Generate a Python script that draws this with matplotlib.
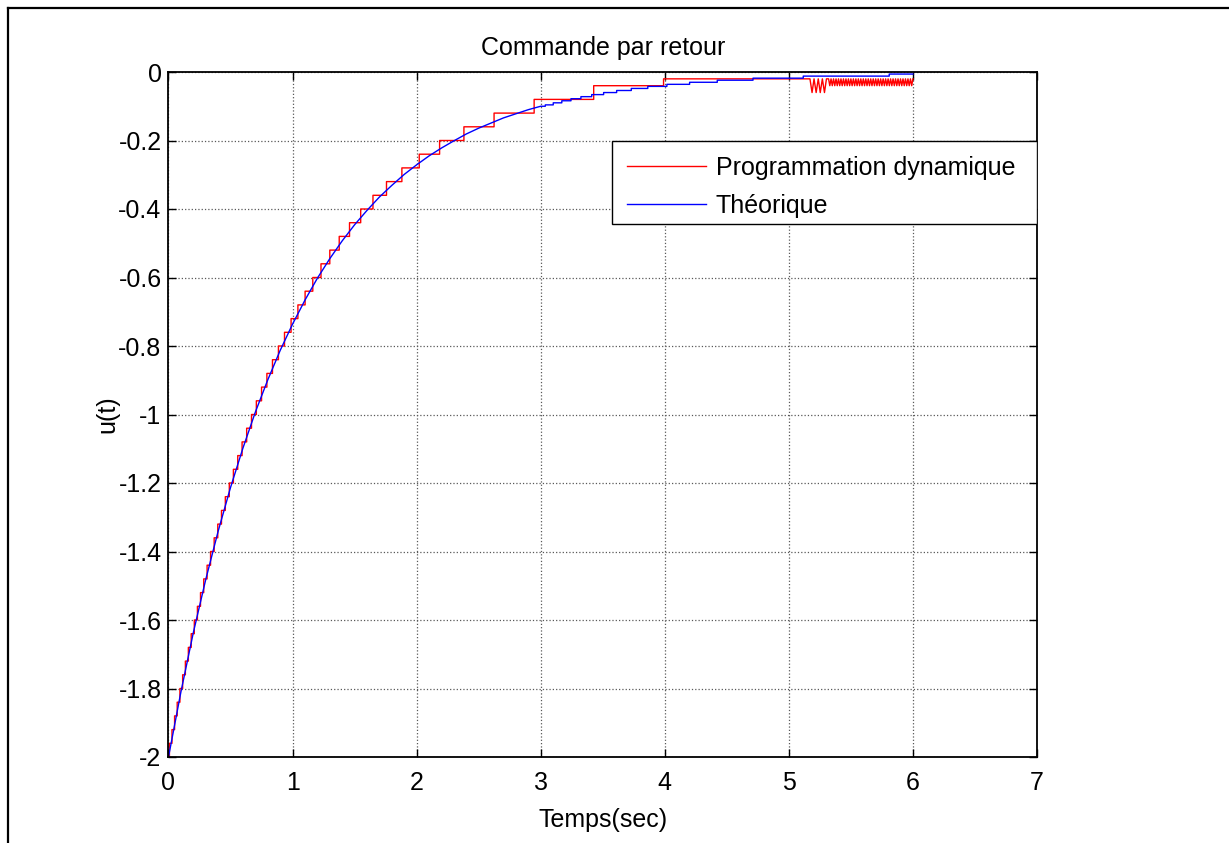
import numpy as np
import matplotlib
matplotlib.use("Agg")
import matplotlib.pyplot as plt
from matplotlib.lines import Line2D
from matplotlib.patches import Rectangle
from matplotlib.ticker import FuncFormatter

plt.rcParams['font.family'] = ['Liberation Sans', 'DejaVu Sans']
plt.rcParams['axes.unicode_minus'] = False

# ---- data ---------------------------------------------------------------
title = "Commande par retour"
xlabel = "Temps(sec)"
ylabel = "u(t)"
label_dp = "Programmation dynamique"
label_th = "Théorique"

x_ticks = [0, 1, 2, 3, 4, 5, 6, 7]
y_ticks = [-2, -1.8, -1.6, -1.4, -1.2, -1, -0.8, -0.6, -0.4, -0.2, 0]

# dynamic programming control: switching instants and held levels
dp_t = [0.000, 0.0075, 0.028, 0.049, 0.070, 0.092, 0.114, 0.136, 0.160, 0.183,
        0.208, 0.233, 0.258, 0.284, 0.311, 0.339, 0.368, 0.397, 0.427, 0.458,
        0.490, 0.523, 0.558, 0.593, 0.630, 0.669, 0.708, 0.750, 0.793, 0.838,
        0.886, 0.935, 0.988, 1.043, 1.101, 1.163, 1.229, 1.300, 1.376, 1.459,
        1.549, 1.648, 1.757, 1.881, 2.021, 2.185, 2.381, 2.624, 2.947, 3.427,
        3.990, 5.170]
dp_u = [-2.00, -1.96, -1.92, -1.88, -1.84, -1.80, -1.76, -1.72, -1.68, -1.64,
        -1.60, -1.56, -1.52, -1.48, -1.44, -1.40, -1.36, -1.32, -1.28, -1.24,
        -1.20, -1.16, -1.12, -1.08, -1.04, -1.00, -0.96, -0.92, -0.88, -0.84,
        -0.80, -0.76, -0.72, -0.68, -0.64, -0.60, -0.56, -0.52, -0.48, -0.44,
        -0.40, -0.36, -0.32, -0.28, -0.24, -0.20, -0.16, -0.12, -0.08, -0.04,
        -0.02, -0.02]

# dynamic programming control near the end (sampled every 0.0167 s, then 0.01 s)
dp_dip_t = [5.170, 5.187, 5.203, 5.220, 5.237, 5.253, 5.270, 5.287, 5.303]
dp_dip_u = [-0.02, -0.06, -0.02, -0.06, -0.02, -0.06, -0.02, -0.06, -0.02]
dp_end_t0 = 5.32
dp_end_dt = 0.01
dp_end_u = [-0.02, -0.04, -0.02, -0.04, -0.02, -0.04, -0.02, -0.04, -0.02, -0.04,
            -0.02, -0.04, -0.02, -0.04, -0.02, -0.04, -0.02, -0.04, -0.02, -0.04,
            -0.02, -0.04, -0.02, -0.04, -0.02, -0.04, -0.02, -0.04, -0.02, -0.04,
            -0.02, -0.04, -0.02, -0.04, -0.02, -0.04, -0.02, -0.04, -0.02, -0.04,
            -0.02, -0.04, -0.02, -0.04, -0.02, -0.04, -0.02, -0.04, -0.02, -0.04,
            -0.02, -0.04, -0.02, -0.04, -0.02, -0.04, -0.02, -0.04, -0.02, -0.04,
            -0.02, -0.04, -0.02, -0.04, -0.02, -0.04, -0.02, -0.04, -0.02]

# theoretical control: samples every 0.1 s up to t = 3
th_t = [0.0, 0.1, 0.2, 0.3, 0.4, 0.5, 0.6, 0.7, 0.8, 0.9, 1.0, 1.1, 1.2, 1.3,
        1.4, 1.5, 1.6, 1.7, 1.8, 1.9, 2.0, 2.1, 2.2, 2.3, 2.4, 2.5, 2.6, 2.7,
        2.8, 2.9, 3.0]
th_u = [-2.000, -1.810, -1.637, -1.482, -1.341, -1.213, -1.098, -0.993, -0.899,
        -0.813, -0.736, -0.666, -0.602, -0.545, -0.493, -0.446, -0.404, -0.365,
        -0.331, -0.299, -0.271, -0.245, -0.222, -0.201, -0.181, -0.164, -0.149,
        -0.134, -0.122, -0.110, -0.100]
# theoretical control after t = 3: small held steps
th_step_t = [3.000, 3.037, 3.101, 3.170, 3.244, 3.324, 3.411, 3.507, 3.612,
             3.730, 3.863, 4.017, 4.200, 4.423, 4.711, 5.116, 5.809, 6.000]
th_step_u = [-0.100, -0.096, -0.090, -0.084, -0.078, -0.072, -0.066, -0.060,
             -0.054, -0.048, -0.042, -0.036, -0.030, -0.024, -0.018, -0.012,
             -0.006, -0.006]


def hold(t, u):
    """Vertices of a zero-order-hold (step) trace."""
    t = np.asarray(t, float)
    u = np.asarray(u, float)
    xs = np.repeat(t, 2)[1:]
    ys = np.repeat(u, 2)[:-1]
    return xs, ys


# ---- figure -------------------------------------------------------------
W, H = 1229, 843
fig = plt.figure(figsize=(W / 100, H / 100), dpi=100)
fig.patch.set_facecolor('white')

# outer frame (top and left edges)
fig.add_artist(Line2D([8 / W, 1.0], [1 - 8 / H, 1 - 8 / H], color='black', lw=1.6,
                      transform=fig.transFigure))
fig.add_artist(Line2D([8 / W, 8 / W], [0.0, 1 - 8 / H], color='black', lw=1.6,
                      transform=fig.transFigure))

ax_l, ax_r, ax_t, ax_b = 168.5, 1037.0, 72.0, 757.0
ax = fig.add_axes([ax_l / W, (H - ax_b) / H, (ax_r - ax_l) / W, (ax_b - ax_t) / H])

# red trace
rx, ry = hold(dp_t, dp_u)
end_t = dp_end_t0 + dp_end_dt * np.arange(len(dp_end_u))
red_x = np.concatenate([rx, dp_dip_t, end_t])
red_y = np.concatenate([ry, dp_dip_u, dp_end_u])
ax.plot(red_x, red_y, color=(1, 0, 0), lw=1.0, label=label_dp)

# blue trace
bx, by = hold(th_step_t, th_step_u)
blue_x = np.concatenate([th_t, bx])
blue_y = np.concatenate([th_u, by])
ax.plot(blue_x, blue_y, color=(0, 0, 1), lw=1.0, label=label_th)

ax.set_xlim(0, 7)
ax.set_ylim(-2, 0)
ax.set_xticks(x_ticks)
ax.set_yticks(y_ticks)
ax.yaxis.set_major_formatter(FuncFormatter(lambda v, p: '%g' % v))
ax.xaxis.set_major_formatter(FuncFormatter(lambda v, p: '%g' % v))

ax.tick_params(direction='in', length=6, width=1, labelsize=18,
               top=True, right=True, colors='black')
ax.tick_params(axis='x', pad=10)
ax.tick_params(axis='y', pad=5)
for s in ax.spines.values():
    s.set_linewidth(1.3)
    s.set_color('black')

ax.grid(True, linestyle=':', color='0.35', lw=0.9)
ax.set_axisbelow(True)

ax.set_title(title, fontsize=18, pad=12)
ax.set_xlabel(xlabel, fontsize=18, labelpad=9.5)
ax.set_ylabel(ylabel, fontsize=18, labelpad=-1)

# legend box with explicit frame
box_l, box_r, box_t, box_b = 611.7, 1037.0, 140.7, 224.3
fx = lambda px: (px - ax_l) / (ax_r - ax_l)
fy = lambda py: (ax_b - py) / (ax_b - ax_t)
ax.add_patch(Rectangle((fx(box_l), fy(box_b)), fx(box_r) - fx(box_l),
                       fy(box_t) - fy(box_b), transform=ax.transAxes,
                       facecolor='white', edgecolor='black', lw=1.0, zorder=5))
leg = ax.legend(loc='upper left', bbox_to_anchor=(fx(box_l), fy(box_t)),
                borderaxespad=0, fontsize=18, frameon=False,
                handlelength=3.15, handletextpad=0.4, labelspacing=0.55,
                borderpad=0.62)
leg.set_zorder(6)

fig.savefig('out.png', dpi=100, facecolor='white')
